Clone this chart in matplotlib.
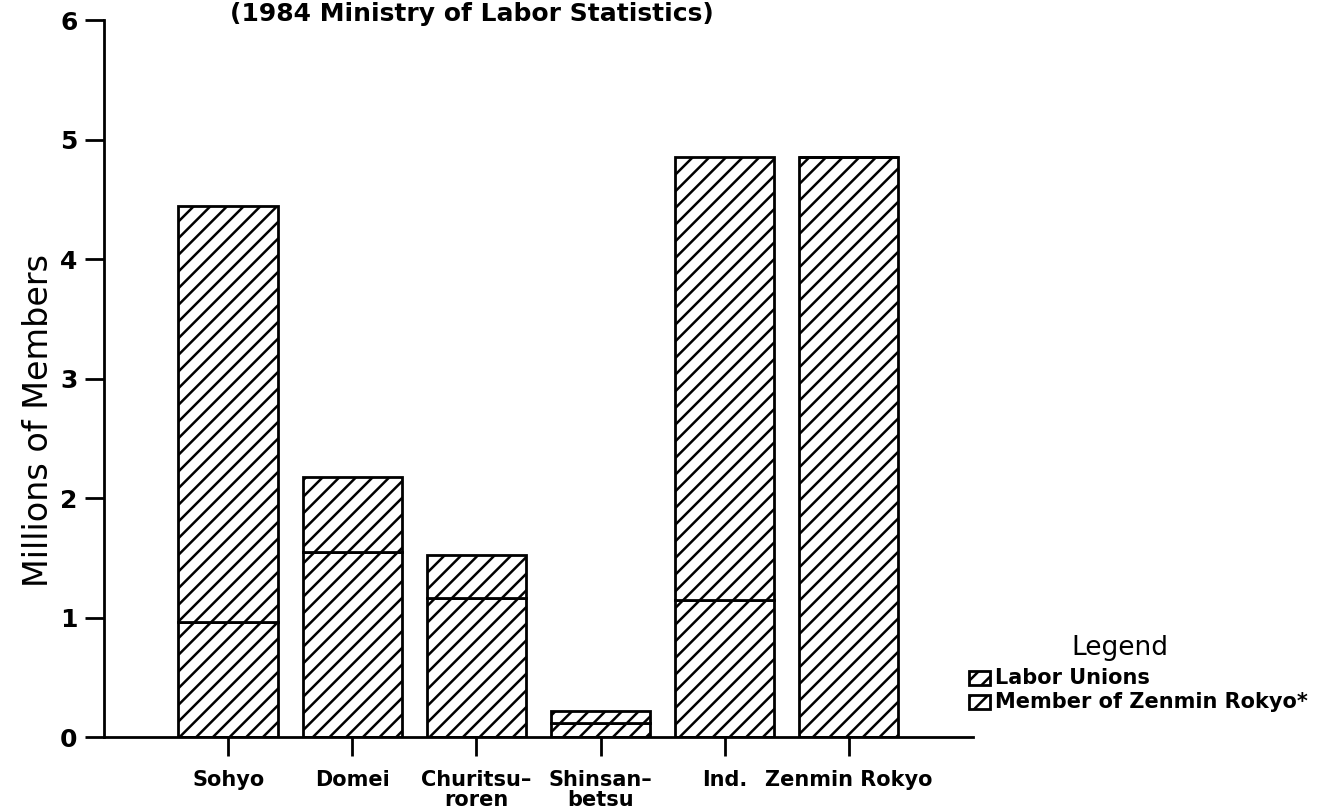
import numpy as np
import matplotlib.pyplot as plt

# ============================================================
# Données (millions de membres)
# ============================================================
categories = ["Sohyo", "Domei", "Churitsu\u2013\nroren", "Shinsan\u2013\nbetsu", "Ind.", "Zenmin Rokyo"]
zenmin_members = [0.96, 1.55, 1.16, 0.12, 1.15, 4.85]   # segment du bas
labor_unions = [3.48, 0.63, 0.36, 0.10, 3.70, 0.0]       # segment du haut
y_ticks = [0, 1, 2, 3, 4, 5, 6]

plt.rcParams['font.family'] = ['DejaVu Sans']
plt.rcParams['hatch.linewidth'] = 1.8

fig = plt.figure(figsize=(13.18, 8.07), dpi=100)
ax = fig.add_axes([0.0789, 0.0867, 0.6593, 0.8885])

x = np.arange(len(categories))
ax.bar(x, zenmin_members, width=0.8, facecolor='white', edgecolor='black',
       linewidth=2, hatch='//')
ax.bar(x, labor_unions, width=0.8, bottom=zenmin_members, facecolor='white',
       edgecolor='black', linewidth=2, hatch='//')

ax.set_xlim(-1, 6)
ax.set_ylim(0, 6)
ax.set_yticks(y_ticks)
ax.set_xticks(x)
ax.set_xticklabels(categories, fontsize=15, fontweight='bold', linespacing=0.95)
ax.tick_params(axis='x', length=14, width=2, direction='out', pad=10)
ax.tick_params(axis='y', length=14, width=2, direction='out', pad=5)
for lab in ax.get_yticklabels():
    lab.set_fontsize(18)
    lab.set_fontweight('bold')

ax.spines['top'].set_visible(False)
ax.spines['right'].set_visible(False)
ax.spines['left'].set_linewidth(2)
ax.spines['bottom'].set_linewidth(2)

ax.set_ylabel("Millions of Members", fontsize=24)
ax.yaxis.set_label_coords(-0.056, 0.442)

# Titre (en haut, près du bord)
fig.text(0.358, 0.974, "(1984 Ministry of Labor Statistics)", fontsize=18,
         fontweight='bold', ha='center', va='baseline')

# Légende
fig.text(0.85, 0.188, "Legend", fontsize=19, ha='center', va='baseline')
legend_items = ["Labor Unions", "Member of Zenmin Rokyo*"]
for i, txt in enumerate(legend_items):
    y0 = 0.151 - i * 0.029
    r = plt.Rectangle((0.735, y0), 0.0165, 0.017, transform=fig.transFigure,
                      facecolor='white', edgecolor='black', linewidth=2,
                      hatch='//', clip_on=False)
    fig.add_artist(r)
    fig.text(0.755, y0 + 0.0085, txt, fontsize=15, fontweight='bold',
             ha='left', va='center')

plt.savefig("out.png", dpi=100)
